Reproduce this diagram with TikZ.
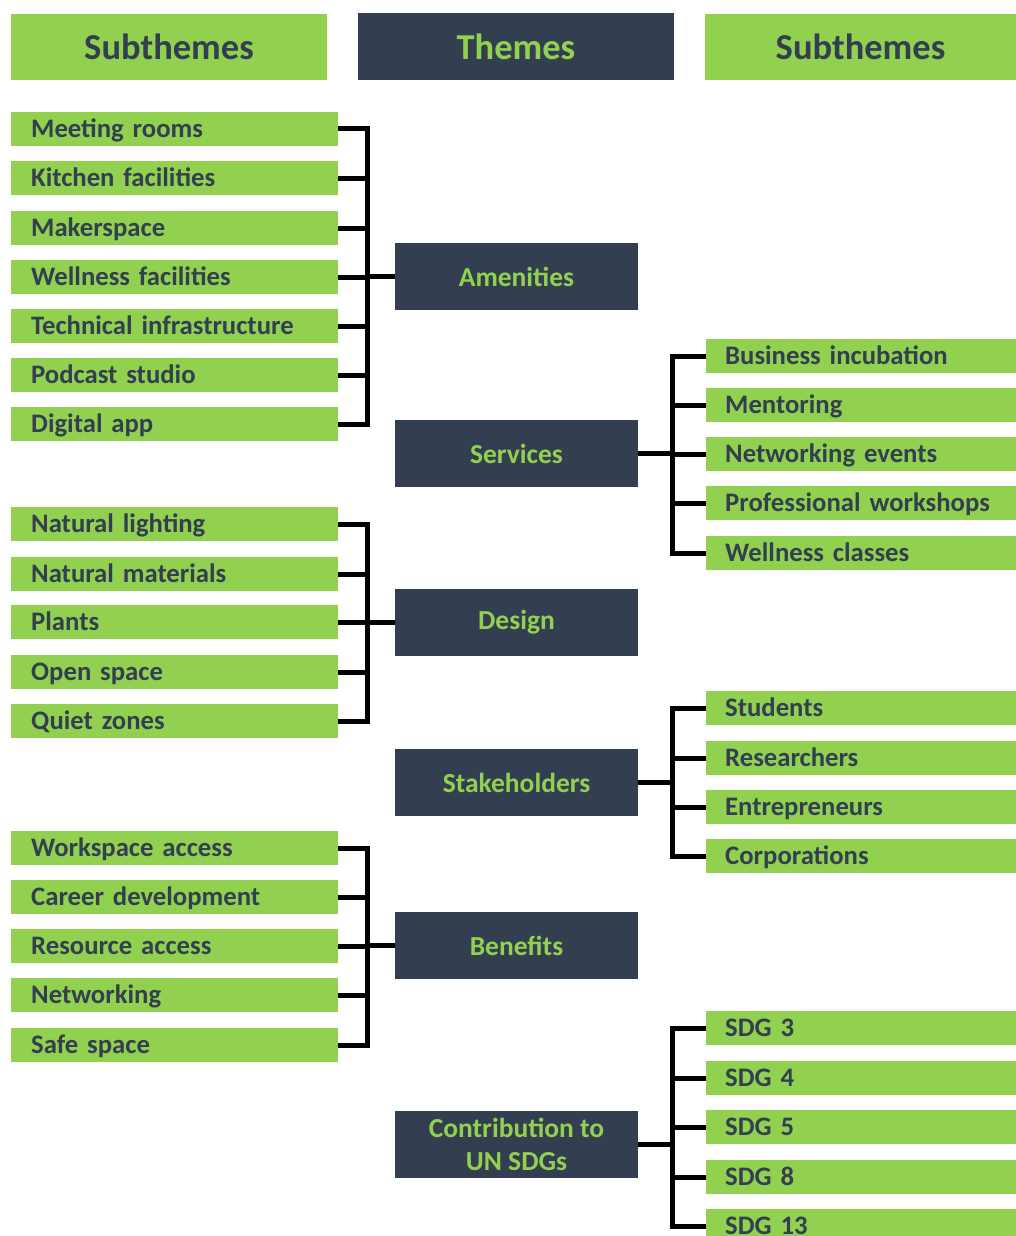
\documentclass[tikz,border=0pt]{standalone}
\usepackage{fontspec}
\setmainfont{Carlito}
\definecolor{leaf}{HTML}{92D050}
\definecolor{slate}{HTML}{333F50}
\tikzset{
  hdrgreen/.style={fill=leaf, text=slate, minimum width=316, minimum height=66,
    inner sep=0, font=\fontsize{36.5}{40}\selectfont\bfseries},
  hdrdark/.style={fill=slate, text=leaf, minimum width=316, minimum height=67,
    inner sep=0, font=\fontsize{36.5}{40}\selectfont\bfseries},
  itemL/.style={fill=leaf, text=slate, anchor=west, minimum height=34,
    text width=287, inner xsep=20, inner ysep=0, align=left,
    text height=18, text depth=2, font=\fontsize{26.7}{31}\selectfont\bfseries},
  itemR/.style={itemL, text width=272, inner xsep=19},
  theme/.style={fill=slate, text=leaf, minimum width=243, minimum height=67,
    inner sep=0, align=center, font=\fontsize{27.5}{32.5}\selectfont\bfseries},
  link/.style={draw=black, line width=5, line join=miter},
}
\begin{document}
\begin{tikzpicture}[x=1pt,y=-1pt]
\useasboundingbox (0,0) rectangle (1016,1236);

% column headings
\node[hdrgreen] (hL) at (169,47) {Subthemes};
\node[hdrdark]  (hM) at (516,46.5) {Themes};
\node[hdrgreen, minimum width=311] (hR) at (860.5,47) {Subthemes};

% themes
\node[theme] (amen)  at (516.5,276.5)  {Amenities};
\node[theme] (serv)  at (516.5,453.5)  {Services};
\node[theme] (desg)  at (516.5,622.5)  {Design};
\node[theme] (stak)  at (516.5,782.5)  {Stakeholders};
\node[theme] (bene)  at (516.5,945.5)  {Benefits};
\node[theme] (sdgs)  at (516.5,1144.5) {Contribution to\\UN SDGs};

% left subthemes
\foreach \n/\y/\t in {a1/129/Meeting rooms, a2/178/Kitchen facilities, a3/228/Makerspace,
    a4/277/Wellness facilities, a5/326/Technical infrastructure, a6/375/Podcast studio,
    a7/424/Digital app,
    d1/524/Natural lighting, d2/574/Natural materials, d3/622/Plants,
    d4/672/Open space, d5/721/Quiet zones,
    b1/848/Workspace access, b2/897/Career development, b3/946/Resource access,
    b4/995/Networking, b5/1045/Safe space}
  \node[itemL] (\n) at (11,\y) {\t};

% right subthemes
\foreach \n/\y/\t in {s1/356/Business incubation, s2/405/Mentoring, s3/454/Networking events,
    s4/503/Professional workshops, s5/553/Wellness classes,
    k1/708/Students, k2/758/Researchers, k3/807/Entrepreneurs, k4/856/Corporations,
    g1/1028/SDG 3, g2/1078/SDG 4, g3/1127/SDG 5, g4/1177/SDG 8, g5/1226/SDG 13}
  \node[itemR] (\n) at (706,\y) {\t};

% bus positions
\coordinate (busL) at (367,0);
\coordinate (busR) at (672,0);

% Amenities
\draw[link] (a1.east) -- (a1.east -| busL) -- (a7.east -| busL) -- (a7.east);
\foreach \n in {a2,a3,a4,a5,a6} \draw[link] (\n.east) -- (\n.east -| busL);
\draw[link] (amen.west) -- (amen.west -| busL);

% Design
\draw[link] (d1.east) -- (d1.east -| busL) -- (d5.east -| busL) -- (d5.east);
\foreach \n in {d2,d3,d4} \draw[link] (\n.east) -- (\n.east -| busL);
\draw[link] (desg.west) -- (desg.west -| busL);

% Benefits
\draw[link] (b1.east) -- (b1.east -| busL) -- (b5.east -| busL) -- (b5.east);
\foreach \n in {b2,b3,b4} \draw[link] (\n.east) -- (\n.east -| busL);
\draw[link] (bene.west) -- (bene.west -| busL);

% Services
\draw[link] (s1.west) -- (s1.west -| busR) -- (s5.west -| busR) -- (s5.west);
\foreach \n in {s2,s3,s4} \draw[link] (\n.west) -- (\n.west -| busR);
\draw[link] (serv.east) -- (serv.east -| busR);

% Stakeholders
\draw[link] (k1.west) -- (k1.west -| busR) -- (k4.west -| busR) -- (k4.west);
\foreach \n in {k2,k3} \draw[link] (\n.west) -- (\n.west -| busR);
\draw[link] (stak.east) -- (stak.east -| busR);

% Contribution to UN SDGs
\draw[link] (g1.west) -- (g1.west -| busR) -- (g5.west -| busR) -- (g5.west);
\foreach \n in {g2,g3,g4} \draw[link] (\n.west) -- (\n.west -| busR);
\draw[link] (sdgs.east) -- (sdgs.east -| busR);
\end{tikzpicture}
\end{document}
